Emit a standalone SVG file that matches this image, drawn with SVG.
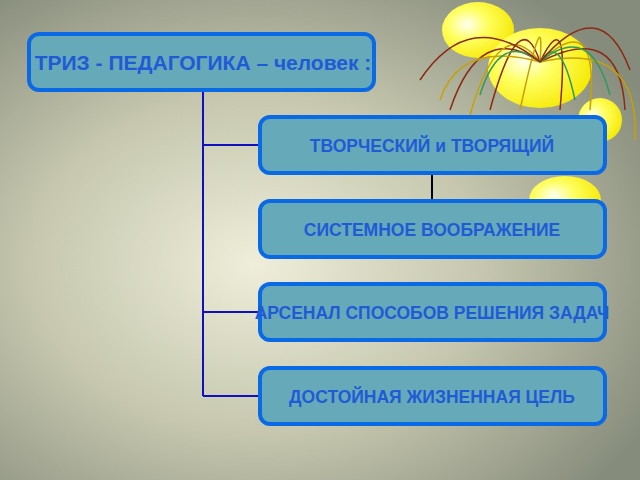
<svg xmlns="http://www.w3.org/2000/svg" width="640" height="480" viewBox="0 0 640 480">
<defs>
<radialGradient id="bg" cx="0.4" cy="0.55" r="0.7">
<stop offset="0" stop-color="#EEEEDA"/>
<stop offset="0.5" stop-color="#C6C7AE"/>
<stop offset="1" stop-color="#868C7C"/>
</radialGradient>
<radialGradient id="sun" cx="0.35" cy="0.4" r="0.7">
<stop offset="0" stop-color="#FFFFF0"/>
<stop offset="0.4" stop-color="#FFFF60"/>
<stop offset="1" stop-color="#F5E800"/>
</radialGradient>
<style>
.box{fill:#66A9B9;stroke:#0A6AE6;stroke-width:4}
.t{font-family:"Liberation Sans",Arial,sans-serif;font-weight:bold;fill:#1F5BD6;text-anchor:middle}
.ln{stroke:#1010C0;stroke-width:2;fill:none}
.fw{fill:none;stroke-width:1.5}
</style>
</defs>
<rect width="640" height="480" fill="url(#bg)"/>
<g id="decor">
<ellipse cx="478" cy="30" rx="36" ry="28" fill="url(#sun)"/>
<ellipse cx="540" cy="68" rx="52" ry="40" fill="url(#sun)"/>
<ellipse cx="600" cy="120" rx="22" ry="22" fill="url(#sun)"/>
<ellipse cx="565" cy="200" rx="36" ry="24" fill="url(#sun)"/>
<g class="fw">
<path d="M540 62 Q480 20 450 110" stroke="#8B2A10"/>
<path d="M540 62 Q500 10 470 115" stroke="#C8A000"/>
<path d="M540 62 Q520 0 490 110" stroke="#8B2A10"/>
<path d="M540 62 Q545 -5 520 110" stroke="#C8A000"/>
<path d="M540 62 Q570 0 560 110" stroke="#8B2A10"/>
<path d="M540 62 Q600 5 590 110" stroke="#C8A000"/>
<path d="M540 62 Q620 20 625 110" stroke="#8B2A10"/>
<path d="M540 62 Q640 40 635 140" stroke="#C8A000"/>
<path d="M540 62 Q460 40 440 100" stroke="#C8A000"/>
<path d="M540 62 Q500 30 480 95" stroke="#2E9A60"/>
<path d="M540 62 Q590 20 610 95" stroke="#2E9A60"/>
<path d="M540 62 Q560 30 575 100" stroke="#2E9A60"/>
<path d="M540 62 Q470 5 420 80" stroke="#8B2A10"/>
<path d="M540 62 Q600 -10 630 70" stroke="#8B2A10"/>
</g>
</g>
<g id="connectors">
<line class="ln" x1="203" y1="90" x2="203" y2="396"/>
<line class="ln" x1="203" y1="145" x2="260" y2="145"/>
<line class="ln" x1="203" y1="312" x2="260" y2="312"/>
<line class="ln" x1="203" y1="396" x2="260" y2="396"/>
<line x1="432" y1="173" x2="432" y2="201" stroke="#000" stroke-width="2"/>
</g>
<g id="root"><rect class="box" x="29" y="34" width="345" height="56" rx="10"/><text class="t" x="203" y="70" font-size="21">ТРИЗ - ПЕДАГОГИКА – человек :</text></g>
<g id="n1"><rect class="box" x="260" y="117" width="345" height="56" rx="10"/><text class="t" x="432" y="152" font-size="17.5">ТВОРЧЕСКИЙ и ТВОРЯЩИЙ</text></g>
<g id="n2"><rect class="box" x="260" y="201" width="345" height="56" rx="10"/><text class="t" x="432" y="236" font-size="17.5">СИСТЕМНОЕ ВООБРАЖЕНИЕ</text></g>
<g id="n3"><rect class="box" x="260" y="284" width="345" height="56" rx="10"/><text class="t" x="432" y="319" font-size="17.5">АРСЕНАЛ СПОСОБОВ РЕШЕНИЯ ЗАДАЧ</text></g>
<g id="n4"><rect class="box" x="260" y="368" width="345" height="56" rx="10"/><text class="t" x="432" y="403" font-size="17.5">ДОСТОЙНАЯ ЖИЗНЕННАЯ ЦЕЛЬ</text></g>
</svg>
